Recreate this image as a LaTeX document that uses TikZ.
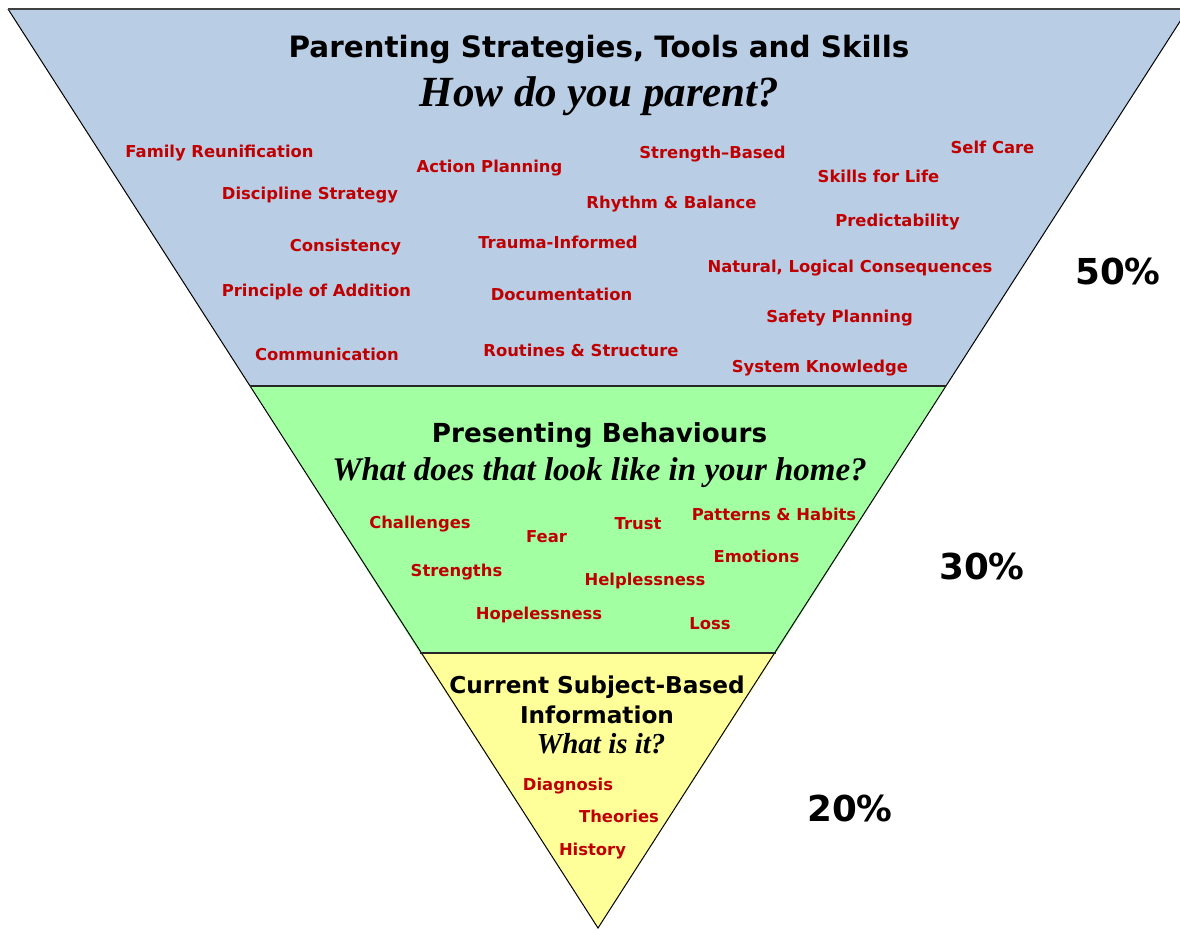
\documentclass[tikz,border=0pt]{standalone}
\usepackage{fontspec}
\setmainfont{DejaVu Sans}
\newfontfamily\tms{Liberation Serif}
\definecolor{lblred}{HTML}{C00000}
\definecolor{topblue}{HTML}{B9CDE5}
\definecolor{midgreen}{HTML}{A2FFA2}
\definecolor{lowyellow}{HTML}{FFFF99}
\definecolor{edgegray}{HTML}{404040}
\tikzset{
  lbl/.style={inner sep=0pt, text=lblred, font=\bfseries\fontsize{16.4}{19}\selectfont},
  headA/.style={inner sep=0pt, font=\bfseries\fontsize{29.4}{34}\selectfont},
  headB/.style={inner sep=0pt, font=\bfseries\fontsize{26.2}{30}\selectfont},
  headC/.style={inner sep=0pt, font=\bfseries\fontsize{23.2}{30}\selectfont, align=center},
  ital/.style={inner sep=0pt, font=\tms\bfseries\itshape\fontsize{#1}{#1}\selectfont},
  pct/.style={inner sep=0pt, font=\bfseries\fontsize{35.7}{40}\selectfont},
}
\begin{document}
\begin{tikzpicture}[x=1pt,y=-1pt]
\useasboundingbox (0,0) rectangle (1180,930);
\clip (0,0) rectangle (1180,930);
% corners
\coordinate (TL) at (8,9);
\coordinate (TR) at (1188,9);
\coordinate (ML) at (250,386);
\coordinate (MR) at (946,386);
\coordinate (LL) at (420,653);
\coordinate (LR) at (776,653);
\coordinate (AP) at (598,928);
% fills
\fill[topblue] (TL) -- (TR) -- (MR) -- (ML) -- cycle;
\fill[midgreen] (ML) -- (MR) -- (LR) -- (LL) -- cycle;
\fill[lowyellow] (LL) -- (LR) -- (AP) -- cycle;
% edges
\draw[black, line width=1pt] (TL) -- (AP) -- (TR);
\draw[black!85, line width=1.5pt] (ML) -- (MR);
\draw[black!85, line width=1.5pt] (LL) -- (LR);
\draw[edgegray, line width=2.2pt] (TL) -- (TR);
% top section
\node[headA] (t1) at (599,49) {Parenting Strategies, Tools and Skills};
\node[ital=43] (t2) at (599.5,96) {How do you parent?};
\node[lbl] (a1) at (219.5,153) {Family Reunification};
\node[lbl] (a2) at (489.5,168) {Action Planning};
\node[lbl] (a3) at (712.5,154) {Strength\textendash Based};
\node[lbl] (a4) at (992.5,147) {Self Care};
\node[lbl] (a5) at (878.5,176) {Skills for Life};
\node[lbl] (a6) at (310,195) {Discipline Strategy};
\node[lbl] (a7) at (671.5,204) {Rhythm \& Balance};
\node[lbl] (a8) at (897.5,222) {Predictability};
\node[lbl] (a9) at (345.5,247) {Consistency};
\node[lbl] (a10) at (558,242) {Trauma-Informed};
\node[lbl] (a11) at (850,268) {Natural, Logical Consequences};
\node[lbl] (a12) at (316.5,292) {Principle of Addition};
\node[lbl] (a13) at (561.5,294) {Documentation};
\node[lbl] (a14) at (839.5,318) {Safety Planning};
\node[lbl] (a15) at (327,354) {Communication};
\node[lbl] (a16) at (581,350) {Routines \& Structure};
\node[lbl] (a17) at (820,368) {System Knowledge};
% middle section
\node[headB] (m1) at (599.5,435) {Presenting Behaviours};
\node[ital=33] (m2) at (599.5,473) {What does that look like in your home?};
\node[lbl] (b1) at (420,524) {Challenges};
\node[lbl] (b2) at (546.5,537) {Fear};
\node[lbl] (b3) at (638,524) {Trust};
\node[lbl] (b4) at (774,514) {Patterns \& Habits};
\node[lbl] (b5) at (756.5,556) {Emotions};
\node[lbl] (b6) at (456.5,572) {Strengths};
\node[lbl] (b7) at (645,581) {Helplessness};
\node[lbl] (b8) at (539,615) {Hopelessness};
\node[lbl] (b9) at (710,624) {Loss};
% lower section
\node[headC] (l1) at (597,700) {Current Subject-Based\\Information};
\node[ital=29] (l2) at (601,744) {What is it?};
\node[lbl] (c1) at (568,786) {Diagnosis};
\node[lbl] (c2) at (619,816) {Theories};
\node[lbl] (c3) at (592.5,851) {History};
% percentages
\node[pct] (p1) at (1118,271) {50\%};
\node[pct] (p2) at (982,566) {30\%};
\node[pct] (p3) at (850,808) {20\%};
\end{tikzpicture}
\end{document}
